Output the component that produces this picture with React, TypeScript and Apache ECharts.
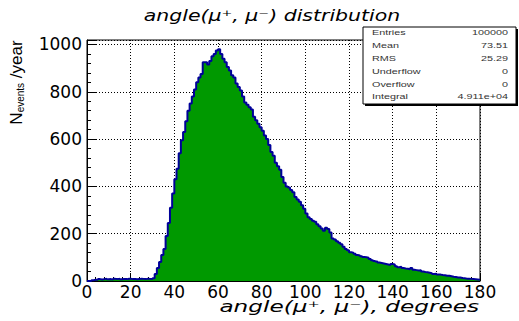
import React, { useEffect, useRef } from "react";
import * as echarts from "echarts";

// Histogram: 180 bins of 1 degree, counts per bin (events / year)
const binLow = 0;
const binWidth = 1;
const counts: number[] = [
  // 0-29
  0, 0, 3, 5, 5, 8, 6, 8, 10, 7, 8, 6, 9, 8, 10, 7, 8, 9, 7, 10,
  8, 9, 7, 8, 10, 9, 8, 10, 9, 8,
  // 30-59
  12, 30, 55, 80, 110, 135, 190, 245, 310, 370,
  430, 475, 540, 595, 630, 675, 720, 750, 780, 810,
  840, 860, 875, 925, 925, 915, 930, 950, 960, 975,
  // 60-89
  980, 960, 940, 925, 905, 890, 870, 860, 835, 820,
  805, 780, 755, 745, 735, 725, 695, 680, 665, 650,
  635, 615, 600, 575, 545, 530, 500, 485, 470, 440,
  // 90-119
  415, 400, 395, 385, 375, 355, 345, 335, 320, 305,
  285, 270, 262, 255, 250, 240, 232, 222, 212, 225,
  220, 205, 180, 175, 168, 162, 155, 145, 135, 130,
  // 120-149
  122, 120, 115, 110, 108, 105, 102, 100, 98, 93,
  88, 85, 82, 78, 76, 74, 72, 70, 68, 72,
  70, 62, 58, 60, 55, 53, 52, 50, 55, 48,
  // 150-179
  46, 44, 45, 40, 38, 37, 35, 33, 30, 31,
  28, 27, 25, 24, 22, 22, 20, 18, 17, 15,
  15, 13, 12, 10, 10, 9, 8, 7, 6, 5,
];

const xRange = [0, 180];
const yRange = [0, 1019];
const xTickStep = 20;
const yTickStep = 200;

const titleText = "angle(μ⁺, μ⁻) distribution";
const xTitle = "angle(μ⁺, μ⁻), degrees";
const statLabels = ["Entries", "Mean", "RMS", "Underflow", "Overflow", "Integral"];
const statValues = ["100000", "73.51", "25.29", "0", "0", "4.911e+04"];

export default function App() {
  const ref = useRef<HTMLDivElement>(null);
  useEffect(() => {
    if (!ref.current) return;
    const chart = echarts.init(ref.current, null, { renderer: "svg" });

    const stepData: number[][] = counts.map((c, i) => [binLow + i * binWidth, c]);
    stepData.push([binLow + counts.length * binWidth, counts[counts.length - 1]]);

    const statTexts: any[] = [];
    statLabels.forEach((lab, i) => {
      const y = 32.5 + i * 12.8;
      statTexts.push({
        type: "text",
        x: 372,
        y,
        z: 110,
        scaleX: 1.35,
        style: {
          text: lab,
          fontSize: 8,
          fontFamily: "Liberation Sans",
          fill: "#333",
          textAlign: "left",
          textVerticalAlign: "middle",
        },
      });
      statTexts.push({
        type: "text",
        x: 508,
        y,
        z: 110,
        scaleX: 1.35,
        style: {
          text: statValues[i],
          fontSize: 8,
          fontFamily: "Liberation Sans",
          fill: "#333",
          textAlign: "right",
          textVerticalAlign: "middle",
        },
      });
    });

    const dotted = { color: "#000", width: 1, type: [1, 2] as any };

    chart.setOption({
      animation: false,
      backgroundColor: "#fff",
      grid: {
        left: 87,
        right: 39,
        top: 40,
        bottom: 40,
        show: true,
        borderColor: "#000",
        borderWidth: 1,
        backgroundColor: "transparent",
        containLabel: false,
        outerBoundsMode: "none",
      },
      xAxis: {
        type: "value",
        min: xRange[0],
        max: xRange[1],
        interval: xTickStep,
        axisLine: { show: true, lineStyle: { color: "#000", width: 1 } },
        axisTick: { show: true, inside: true, length: 8, lineStyle: { color: "#000", width: 1 } },
        minorTick: { show: true, splitNumber: 5, length: 4, lineStyle: { color: "#000", width: 1 } },
        splitLine: { show: true, lineStyle: dotted },
        axisLabel: {
          color: "#000",
          fontSize: 17,
          fontFamily: "DejaVu Sans",
          margin: 2,
        },
      },
      yAxis: {
        type: "value",
        min: yRange[0],
        max: yRange[1],
        interval: yTickStep,
        name: "{a|N}{b|events}{a| /year}",
        nameLocation: "middle",
        nameRotate: 90,
        nameGap: 62,
        nameTextStyle: {
          padding: [0, 0, 0, 156],
          rich: {
            a: { fontSize: 17, fontFamily: "Liberation Sans", color: "#000", verticalAlign: "bottom" },
            b: { fontSize: 10, fontFamily: "Liberation Sans", color: "#000", verticalAlign: "bottom" },
          },
        },
        axisLine: { show: true, lineStyle: { color: "#000", width: 1 } },
        axisTick: { show: true, inside: true, length: 9, lineStyle: { color: "#000", width: 1 } },
        minorTick: { show: true, splitNumber: 5, length: 4, lineStyle: { color: "#000", width: 1 } },
        splitLine: { show: true, lineStyle: dotted },
        axisLabel: {
          color: "#000",
          fontSize: 17,
          fontFamily: "DejaVu Sans",
          margin: 5,
          formatter: (v: number) => (v % yTickStep === 0 ? String(v) : ""),
        },
      },
      series: [
        {
          type: "line",
          step: "end",
          data: stepData,
          symbol: "none",
          lineStyle: { color: "#000099", width: 2 },
          areaStyle: { color: "#009900", opacity: 1 },
          z: 3,
        },
      ],
      graphic: [
        {
          type: "text",
          x: 272,
          y: 15,
          scaleX: 1.28,
          style: {
            text: titleText,
            fontSize: 16,
            fontFamily: "DejaVu Sans",
            fontStyle: "oblique",
            fill: "#000",
            textAlign: "center",
            textVerticalAlign: "middle",
          },
        },
        {
          type: "text",
          x: 479,
          y: 307,
          scaleX: 1.45,
          style: {
            text: xTitle,
            fontSize: 16,
            fontFamily: "DejaVu Sans",
            fontStyle: "oblique",
            fill: "#000",
            textAlign: "right",
            textVerticalAlign: "middle",
          },
        },
        {
          type: "rect",
          shape: { x: 365, y: 29, width: 153, height: 77 },
          style: { fill: "#000" },
          z: 100,
        },
        {
          type: "rect",
          shape: { x: 363, y: 27, width: 153, height: 77 },
          style: { fill: "#fff", stroke: "#000", lineWidth: 1 },
          z: 101,
        },
        ...statTexts,
      ],
    });
    return () => chart.dispose();
  }, []);
  return (
    <div
      ref={ref}
      style={{ position: "absolute", left: 0, top: 0, width: 519, height: 321, background: "#fff" }}
    />
  );
}
